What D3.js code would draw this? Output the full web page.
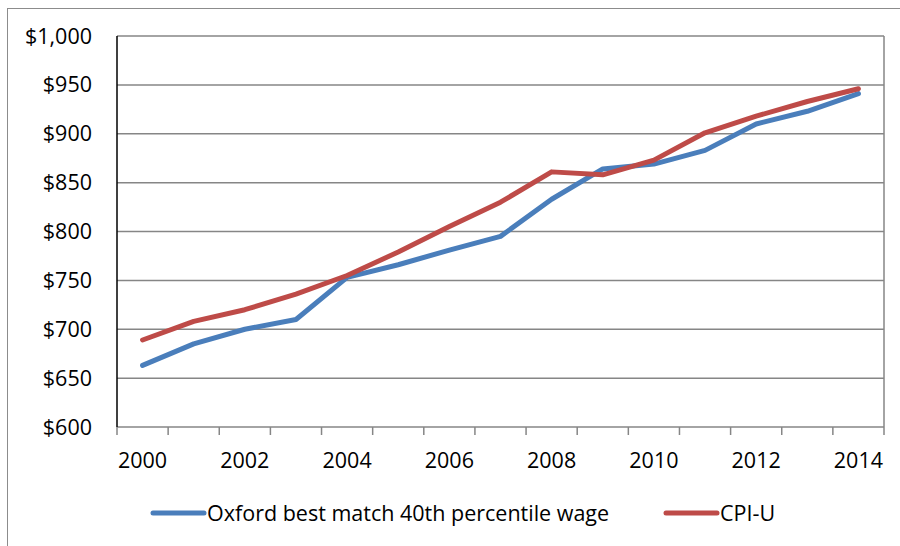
<!DOCTYPE html>
<html lang="en">
	<head>
		<meta charset="utf-8">
		<title>wage vs cpi</title>
		<script src="https://cdnjs.cloudflare.com/ajax/libs/d3/7.8.5/d3.min.js"></script>
		<style type="text/css">
			body { margin: 0; background: #fff; }
			text { font-family: "Open Sans", Lato, sans-serif; fill: #000; }
		</style>
	</head>

	<body>
        <script type="text/javascript">

        // data
        var years = ["2000","2001","2002","2003","2004","2005","2006","2007","2008","2009","2010","2011","2012","2013","2014"]
        var oxford = [663, 685, 700, 710, 753, 766, 781, 795, 833, 864, 869, 883, 910, 923, 941]
        var cpiu = [689, 708, 720, 736, 755, 779, 805, 830, 861, 858, 873, 901, 918, 933, 946]
        var yTicks = [600, 650, 700, 750, 800, 850, 900, 950, 1000]
        var xLabels = ["2000","2002","2004","2006","2008","2010","2012","2014"]
        var seriesNames = ["Oxford best match 40th percentile wage", "CPI-U"]

        var w = 900
        var h = 546
        var pLeft = 117, pRight = 884, pTop = 36, pBottom = 427
        var fontSize = "21.5px"

        var colors = ["#4a7ebb", "#be4b48"]
        var gridColor = "#868686"

        var svg = d3.select("body")
            .append("svg")
            .attr("width", w)
            .attr("height", h)

        // outer chart frame
        svg.append("rect")
            .attr("x", 7.5).attr("y", 8.5)
            .attr("width", w).attr("height", h)
            .attr("fill", "none")
            .attr("stroke", "#8c8c8c")
            .attr("stroke-width", 1)

        var xBand = d3.scaleBand()
            .domain(years)
            .range([pLeft, pRight])

        var yScale = d3.scaleLinear()
            .domain([600, 1000])
            .range([pBottom, pTop])

        function xc(d) { return xBand(d) + xBand.bandwidth() / 2 }

        // horizontal grid lines
        svg.selectAll("line.grid")
            .data(yTicks.slice(1))
            .enter()
            .append("line")
            .attr("class", "grid")
            .attr("x1", pLeft).attr("x2", pRight)
            .attr("y1", function(d){ return yScale(d) })
            .attr("y2", function(d){ return yScale(d) })
            .attr("stroke", gridColor)
            .attr("stroke-width", 1.5)

        // right border of plot area
        svg.append("line")
            .attr("x1", pRight).attr("x2", pRight)
            .attr("y1", pTop).attr("y2", pBottom)
            .attr("stroke", gridColor)
            .attr("stroke-width", 1.5)

        // x axis line + tick marks between categories
        svg.append("line")
            .attr("x1", pLeft).attr("x2", pRight)
            .attr("y1", pBottom).attr("y2", pBottom)
            .attr("stroke", gridColor)
            .attr("stroke-width", 1.5)

        var tickPos = years.map(function(d){ return xBand(d) }).concat([pRight])
        svg.selectAll("line.xtick")
            .data(tickPos)
            .enter()
            .append("line")
            .attr("class", "xtick")
            .attr("x1", function(d){ return d })
            .attr("x2", function(d){ return d })
            .attr("y1", pBottom).attr("y2", pBottom + 8)
            .attr("stroke", gridColor)
            .attr("stroke-width", 1.5)

        // y axis line (black)
        svg.append("line")
            .attr("x1", pLeft).attr("x2", pLeft)
            .attr("y1", pTop).attr("y2", pBottom)
            .attr("stroke", "#000")
            .attr("stroke-width", 1.5)

        // y labels
        var fmt = d3.format(",")
        svg.selectAll("text.ylab")
            .data(yTicks)
            .enter()
            .append("text")
            .attr("class", "ylab")
            .attr("x", 92)
            .attr("y", function(d){ return yScale(d) + 7.5 })
            .attr("text-anchor", "end")
            .style("font-size", fontSize)
            .text(function(d){ return "$" + fmt(d) })

        // x labels
        svg.selectAll("text.xlab")
            .data(xLabels)
            .enter()
            .append("text")
            .attr("class", "xlab")
            .attr("x", function(d){ return xc(d) })
            .attr("y", 468)
            .attr("text-anchor", "middle")
            .style("font-size", fontSize)
            .text(function(d){ return d })

        // lines
        var line = d3.line()
            .x(function(d, i){ return xc(years[i]) })
            .y(function(d){ return yScale(d) })

        var series = [oxford, cpiu]
        svg.selectAll("path.series")
            .data(series)
            .enter()
            .append("path")
            .attr("class", "series")
            .attr("d", line)
            .attr("fill", "none")
            .attr("stroke", function(d, i){ return colors[i] })
            .attr("stroke-width", 5)
            .attr("stroke-linejoin", "round")
            .attr("stroke-linecap", "round")

        // legend
        var legendX = [153, 666]
        var legend = svg.selectAll("g.legend")
            .data(seriesNames)
            .enter()
            .append("g")
            .attr("class", "legend")
            .attr("transform", function(d, i){ return "translate(" + legendX[i] + ",513)" })

        legend.append("line")
            .attr("x1", 0).attr("x2", 51)
            .attr("y1", 0).attr("y2", 0)
            .attr("stroke", function(d, i){ return colors[i] })
            .attr("stroke-width", 5)
            .attr("stroke-linecap", "round")

        legend.append("text")
            .attr("x", 54)
            .attr("y", 7.5)
            .style("font-size", fontSize)
            .text(function(d){ return d })

        </script>
	</body>
</html>
